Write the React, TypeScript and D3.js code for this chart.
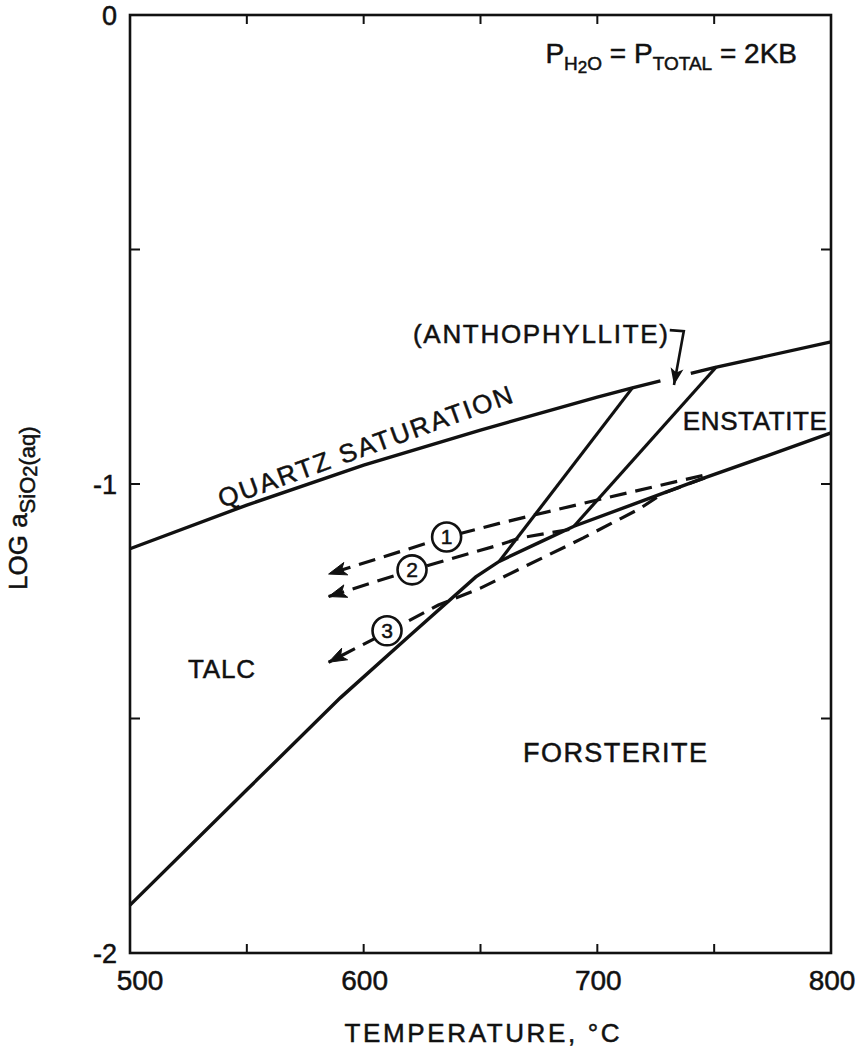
import React from 'react';
import * as d3 from 'd3';

const W = 863;
const H = 1049;

// axis ticks
const xTickLabels = [500, 600, 700, 800];
const xTickMarks = [550, 600, 650, 700, 750];
const yTickLabels = [0, -1, -2];
const yTickMarks = [-0.5, -1, -1.5];

// quartz saturation curve (T °C, log a SiO2)
const quartzT = [500, 550, 600, 650, 700, 715, 727, 740, 750, 800];
const quartzLog = [-1.138, -1.045, -0.96, -0.885, -0.815, -0.795, -0.78, -0.764, -0.752, -0.697];
const quartzGap = [727, 740];

// talc/forsterite -> anthophyllite/forsterite -> enstatite/forsterite boundary
const lowerT = [500, 550, 590, 620, 648, 658, 675, 690, 715, 744, 772, 800];
const lowerLog = [-1.898, -1.652, -1.456, -1.322, -1.198, -1.165, -1.125, -1.09, -1.044, -0.99, -0.941, -0.891];

// talc / anthophyllite
const talcAnthT = [658, 715];
const talcAnthLog = [-1.165, -0.795];

// anthophyllite / enstatite
const anthEnT = [690, 751];
const anthEnLog = [-1.09, -0.75];

// cooling paths (start on boundary, end at arrow)
const path1T = [745, 700, 658, 635.5, 585];
const path1Log = [-0.982, -1.034, -1.084, -1.113, -1.192];
const path2T = [688, 667, 658, 621, 585];
const path2Log = [-1.097, -1.115, -1.13, -1.183, -1.24];
const path3T = [746, 728, 718, 694, 650, 632, 610, 585];
const path3Log = [-0.987, -1.02, -1.053, -1.115, -1.222, -1.258, -1.316, -1.38];

const pathNames = ['1', '2', '3'];
const circleT = [635.5, 620.7, 610];
const circleLog = [-1.113, -1.183, -1.313];

const FONT = "'Liberation Sans', Arial, sans-serif";

function zip(t: number[], v: number[]): [number, number][] {
  return t.map((d, i) => [d, v[i]]);
}

export default function App() {
  const x = d3.scaleLinear().domain([500, 800]).range([130, 831]);
  const y = d3.scaleLinear().domain([-2, 0]).range([953, 15]);
  const line = d3
    .line<[number, number]>()
    .x((d) => x(d[0]))
    .y((d) => y(d[1]));

  const quartz = zip(quartzT, quartzLog);
  const quartzA = quartz.filter((d) => d[0] <= quartzGap[0]);
  const quartzB = quartz.filter((d) => d[0] >= quartzGap[1]);

  const paths = [zip(path1T, path1Log), zip(path2T, path2Log), zip(path3T, path3Log)];

  const arrowHead = (pts: [number, number][], L = 18, w = 6.5) => {
    const p = pts[pts.length - 1];
    const q = pts[pts.length - 2];
    const px = x(p[0]), py = y(p[1]);
    const qx = x(q[0]), qy = y(q[1]);
    const len = Math.hypot(px - qx, py - qy);
    const ux = (px - qx) / len, uy = (py - qy) / len;
    const bx = px - ux * L, by = py - uy * L;
    const nx = -uy, ny = ux;
    const mx = px - ux * L * 0.75, my = py - uy * L * 0.75;
    return `M${px},${py}L${bx + nx * w},${by + ny * w}L${mx},${my}L${bx - nx * w},${by - ny * w}Z`;
  };

  const stroke = '#111';
  const txt = { fill: stroke, stroke: stroke, strokeWidth: 0.5 };

  // callout arrow for (ANTHOPHYLLITE) in data coords
  const callT = [731, 737, 732.8];
  const callLog = [-0.672, -0.674, -0.789];
  const call = zip(callT, callLog);

  return (
    <svg
      width={W}
      height={H}
      style={{ position: 'absolute', left: 0, top: 0, background: '#fff' }}
      fontFamily={FONT}
    >
      <rect x={0} y={0} width={W} height={H} fill="#fff" />
      {/* frame */}
      <rect
        x={x(500)}
        y={y(0)}
        width={x(800) - x(500)}
        height={y(-2) - y(0)}
        fill="none"
        stroke={stroke}
        strokeWidth={2.6}
      />
      {/* ticks */}
      {xTickMarks.map((t) => (
        <g key={'xt' + t}>
          <line x1={x(t)} x2={x(t)} y1={y(-2)} y2={y(-2) - 9} stroke={stroke} strokeWidth={2} />
          <line x1={x(t)} x2={x(t)} y1={y(0)} y2={y(0) + 9} stroke={stroke} strokeWidth={2} />
        </g>
      ))}
      {yTickMarks.map((t) => (
        <g key={'yt' + t}>
          <line x1={x(500)} x2={x(500) + 10} y1={y(t)} y2={y(t)} stroke={stroke} strokeWidth={2} />
          <line x1={x(800)} x2={x(800) - 10} y1={y(t)} y2={y(t)} stroke={stroke} strokeWidth={2} />
        </g>
      ))}
      {xTickLabels.map((t, i) => (
        <text
          key={'xl' + t}
          x={x(t) + (i === 0 ? 10 : 1)}
          y={990}
          fontSize={28}
          textAnchor="middle"
          {...txt}
        >
          {t}
        </text>
      ))}
      {yTickLabels.map((t) => (
        <text key={'yl' + t} x={117} y={y(t) + 10} fontSize={27} textAnchor="end" {...txt}>
          {t === 0 ? '0' : '-' + Math.abs(t)}
        </text>
      ))}
      {/* axis titles */}
      <text x={482} y={1042} fontSize={26} textAnchor="middle" textLength={275} {...txt}>
        TEMPERATURE, °C
      </text>
      <text transform="translate(27,590) rotate(-90)" fontSize={26} {...txt}>
        LOG a
        <tspan dy={8} fontSize={22}>
          SiO
        </tspan>
        <tspan dy={2} fontSize={20}>
          2
        </tspan>
        <tspan dy={-2} fontSize={22}>
          (aq)
        </tspan>
      </text>

      {/* phase boundaries */}
      <path d={line(quartzA) || ''} fill="none" stroke={stroke} strokeWidth={3.4} />
      <path d={line(quartzB) || ''} fill="none" stroke={stroke} strokeWidth={3.4} />
      <path d={line(zip(lowerT, lowerLog)) || ''} fill="none" stroke={stroke} strokeWidth={3.4} />
      <path d={line(zip(talcAnthT, talcAnthLog)) || ''} fill="none" stroke={stroke} strokeWidth={3.2} />
      <path d={line(zip(anthEnT, anthEnLog)) || ''} fill="none" stroke={stroke} strokeWidth={3.2} />

      {/* reaction paths */}
      {paths.map((p, i) => (
        <g key={'p' + i}>
          <path
            d={line(p) || ''}
            fill="none"
            stroke={stroke}
            strokeWidth={3.2}
            strokeDasharray="17 9"
          />
          <path d={arrowHead(p)} fill={stroke} stroke={stroke} strokeWidth={1} />
        </g>
      ))}
      {pathNames.map((n, i) => (
        <g key={'c' + n}>
          <circle
            cx={x(circleT[i])}
            cy={y(circleLog[i])}
            r={14.5}
            fill="#fff"
            stroke={stroke}
            strokeWidth={2.6}
          />
          <text
            x={x(circleT[i])}
            y={y(circleLog[i]) + 7.5}
            fontSize={21}
            textAnchor="middle"
            {...txt}
          >
            {n}
          </text>
        </g>
      ))}

      {/* callout */}
      <path d={line(call) || ''} fill="none" stroke={stroke} strokeWidth={2.6} />
      <path d={arrowHead(call, 17, 6.5)} fill={stroke} />

      {/* field labels */}
      <text
        x={0}
        y={0}
        transform={`translate(${x(539.4)},${y(-1.051)}) rotate(-19.9)`}
        fontSize={26}
        textLength={311}
        {...txt}
      >
        QUARTZ  SATURATION
      </text>
      <text x={x(621.1)} y={y(-0.699)} fontSize={26} textLength={255} {...txt}>
        (ANTHOPHYLLITE)
      </text>
      <text x={x(736.6)} y={y(-0.885)} fontSize={26} textLength={144} {...txt}>
        ENSTATITE
      </text>
      <text x={x(524.8)} y={y(-1.414)} fontSize={26} textLength={67} {...txt}>
        TALC
      </text>
      <text x={x(668.2)} y={y(-1.593)} fontSize={27} textLength={184} {...txt}>
        FORSTERITE
      </text>

      {/* conditions */}
      <text x={797} y={63} fontSize={28} textAnchor="end" {...txt}>
        P
        <tspan dy={7} fontSize={19}>
          H
        </tspan>
        <tspan dy={3} fontSize={17}>
          2
        </tspan>
        <tspan dy={-3} fontSize={19}>
          O
        </tspan>
        <tspan dy={-7}> = P</tspan>
        <tspan dy={7} fontSize={19}>
          TOTAL
        </tspan>
        <tspan dy={-7}> = 2KB</tspan>
      </text>
    </svg>
  );
}
